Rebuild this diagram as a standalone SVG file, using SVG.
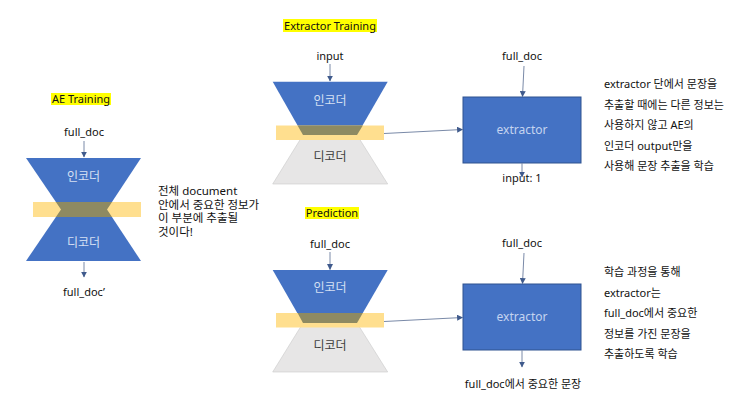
<svg xmlns="http://www.w3.org/2000/svg" width="742" height="409" viewBox="0 0 742 409">
<style>
text{font-family:"Noto Sans","Noto Sans CJK KR",sans-serif;fill:#111}
.t{font-size:11px}
.c{text-anchor:middle}
.hl{fill:#FFFF00}
.enc{fill:#4472C4}
.dec{fill:#E7E6E6;stroke:#C9C9C9;stroke-width:0.6}
.band{fill:#FFDF8F}
.mix{fill:#8E8A62}
.lbl{font-size:12px;fill:#D6E0F3;text-anchor:middle}
.dlbl{font-size:12px;fill:#404040;text-anchor:middle}
.box{fill:#4472C4;stroke:#2F528F;stroke-width:1}
.bt{font-size:12px;fill:#C5D4F0;text-anchor:middle}
.ln{stroke:#7A8AA8;stroke-width:1;fill:none;marker-end:url(#ah)}
</style>
<defs>
<marker id="ah" viewBox="0 0 10 10" refX="9" refY="5" markerWidth="6" markerHeight="6" orient="auto" markerUnits="userSpaceOnUse">
<path d="M0,0 L10,5 L0,10 z" fill="#3F5A8C"/>
</marker>
</defs>

<!-- AE Training -->
<g id="ae-title"><rect class="hl" x="51" y="93" width="60" height="12"/><text class="t c" x="81" y="103">AE Training</text></g>
<g id="ae-input"><text class="t c" x="84" y="136">full_doc</text></g>
<g id="ae-hourglass">
<polygon class="enc" points="26,158 141,158 107,209.5 61,209.5"/>
<polygon class="enc" points="61,209.5 107,209.5 141,261 26,261"/>
<rect class="band" x="33" y="202" width="108" height="15"/>
<polygon class="mix" points="55.9,202 112,202 107,209.5 112,217 55.9,217 61,209.5"/>
<text class="lbl" x="83.5" y="180.5">인코더</text>
<text class="lbl" x="83.5" y="247">디코더</text>
</g>
<g id="ae-output"><text class="t c" x="84" y="296">full_doc’</text></g>
<g id="ae-note"><text class="t" x="158" y="195" style="font-size:11.5px">전체 document<tspan x="158" dy="13.5">안에서 중요한 정보가</tspan><tspan x="158" dy="13.5">이 부분에 추출될</tspan><tspan x="158" dy="13.5">것이다!</tspan></text></g>

<!-- Extractor Training -->
<g id="ext-title"><rect class="hl" x="283" y="19" width="94" height="13"/><text class="t c" x="330" y="29.5">Extractor Training</text></g>
<g id="ext-input"><text class="t c" x="330" y="60">input</text></g>
<g id="ext-autoencoder">
<polygon class="dec" points="303,135 357,135 387.7,184 272.7,184"/>
<polygon class="enc" points="272.7,81.7 387.7,81.7 357,135 303,135"/>
<rect class="band" x="276" y="125.5" width="108" height="14.5"/>
<polygon class="mix" points="297.6,125.5 362.8,125.5 357,135 303,135"/>
<text class="lbl" x="330" y="104.5">인코더</text>
<text class="dlbl" x="330" y="161">디코더</text>
</g>
<g id="ext-fulldoc"><text class="t c" x="522" y="60">full_doc</text></g>
<g id="ext-box"><rect class="box" x="463" y="97" width="118" height="66"/><text class="bt" x="522" y="134">extractor</text></g>
<g id="ext-note"><text class="t" x="604" y="88">extractor 단에서 문장을<tspan x="604" dy="20.6">추출할 때에는 다른 정보는</tspan><tspan x="604" dy="20.6">사용하지 않고 AE의</tspan><tspan x="604" dy="20.6">인코더 output만을</tspan><tspan x="604" dy="20.6">사용해 문장 추출을 학습</tspan></text></g>

<!-- Prediction -->
<g id="pred-title"><rect class="hl" x="305" y="207" width="54" height="12"/><text class="t c" x="332" y="216.5">Prediction</text></g>
<g id="pred-input"><text class="t c" x="330" y="248">full_doc</text></g>
<g id="pred-autoencoder">
<polygon class="dec" points="303,323 357,323 387.7,372 272.7,372"/>
<polygon class="enc" points="272.7,270 387.7,270 357,323 303,323"/>
<rect class="band" x="276" y="313" width="108" height="14.5"/>
<polygon class="mix" points="297.6,313 362.8,313 357,323 303,323"/>
<text class="lbl" x="330" y="292">인코더</text>
<text class="dlbl" x="330" y="350">디코더</text>
</g>
<g id="pred-fulldoc"><text class="t c" x="522" y="247">full_doc</text></g>
<g id="pred-box"><rect class="box" x="463" y="284" width="118" height="66"/><text class="bt" x="522" y="321">extractor</text></g>
<g id="pred-output"><text class="t c" x="523" y="388">full_doc에서 중요한 문장</text></g>
<g id="pred-note"><text class="t" x="604" y="276">학습 과정을 통해<tspan x="604" dy="20.5">extractor는</tspan><tspan x="604" dy="20.5">full_doc에서 중요한</tspan><tspan x="604" dy="20.5">정보를 가진 문장을</tspan><tspan x="604" dy="20.5">추출하도록 학습</tspan></text></g>

<!-- connectors -->
<g id="connectors">
<line class="ln" x1="84" y1="141" x2="84" y2="157"/>
<line class="ln" x1="84" y1="262" x2="84" y2="277"/>
<line class="ln" x1="330" y1="64" x2="330" y2="81"/>
<line class="ln" x1="524" y1="66" x2="522.5" y2="96.5"/>
<line class="ln" x1="384" y1="133.5" x2="462.5" y2="129.5"/>
<line class="ln" x1="522" y1="163" x2="522" y2="177"/>
<line class="ln" x1="330" y1="252" x2="330" y2="269.5"/>
<line class="ln" x1="524" y1="253" x2="522.5" y2="283.5"/>
<line class="ln" x1="384" y1="321.5" x2="462.5" y2="317.5"/>
<line class="ln" x1="522" y1="350" x2="522" y2="367"/>
</g>
<g id="ext-output"><text class="t c" x="522" y="182">input: 1</text></g>
</svg>
